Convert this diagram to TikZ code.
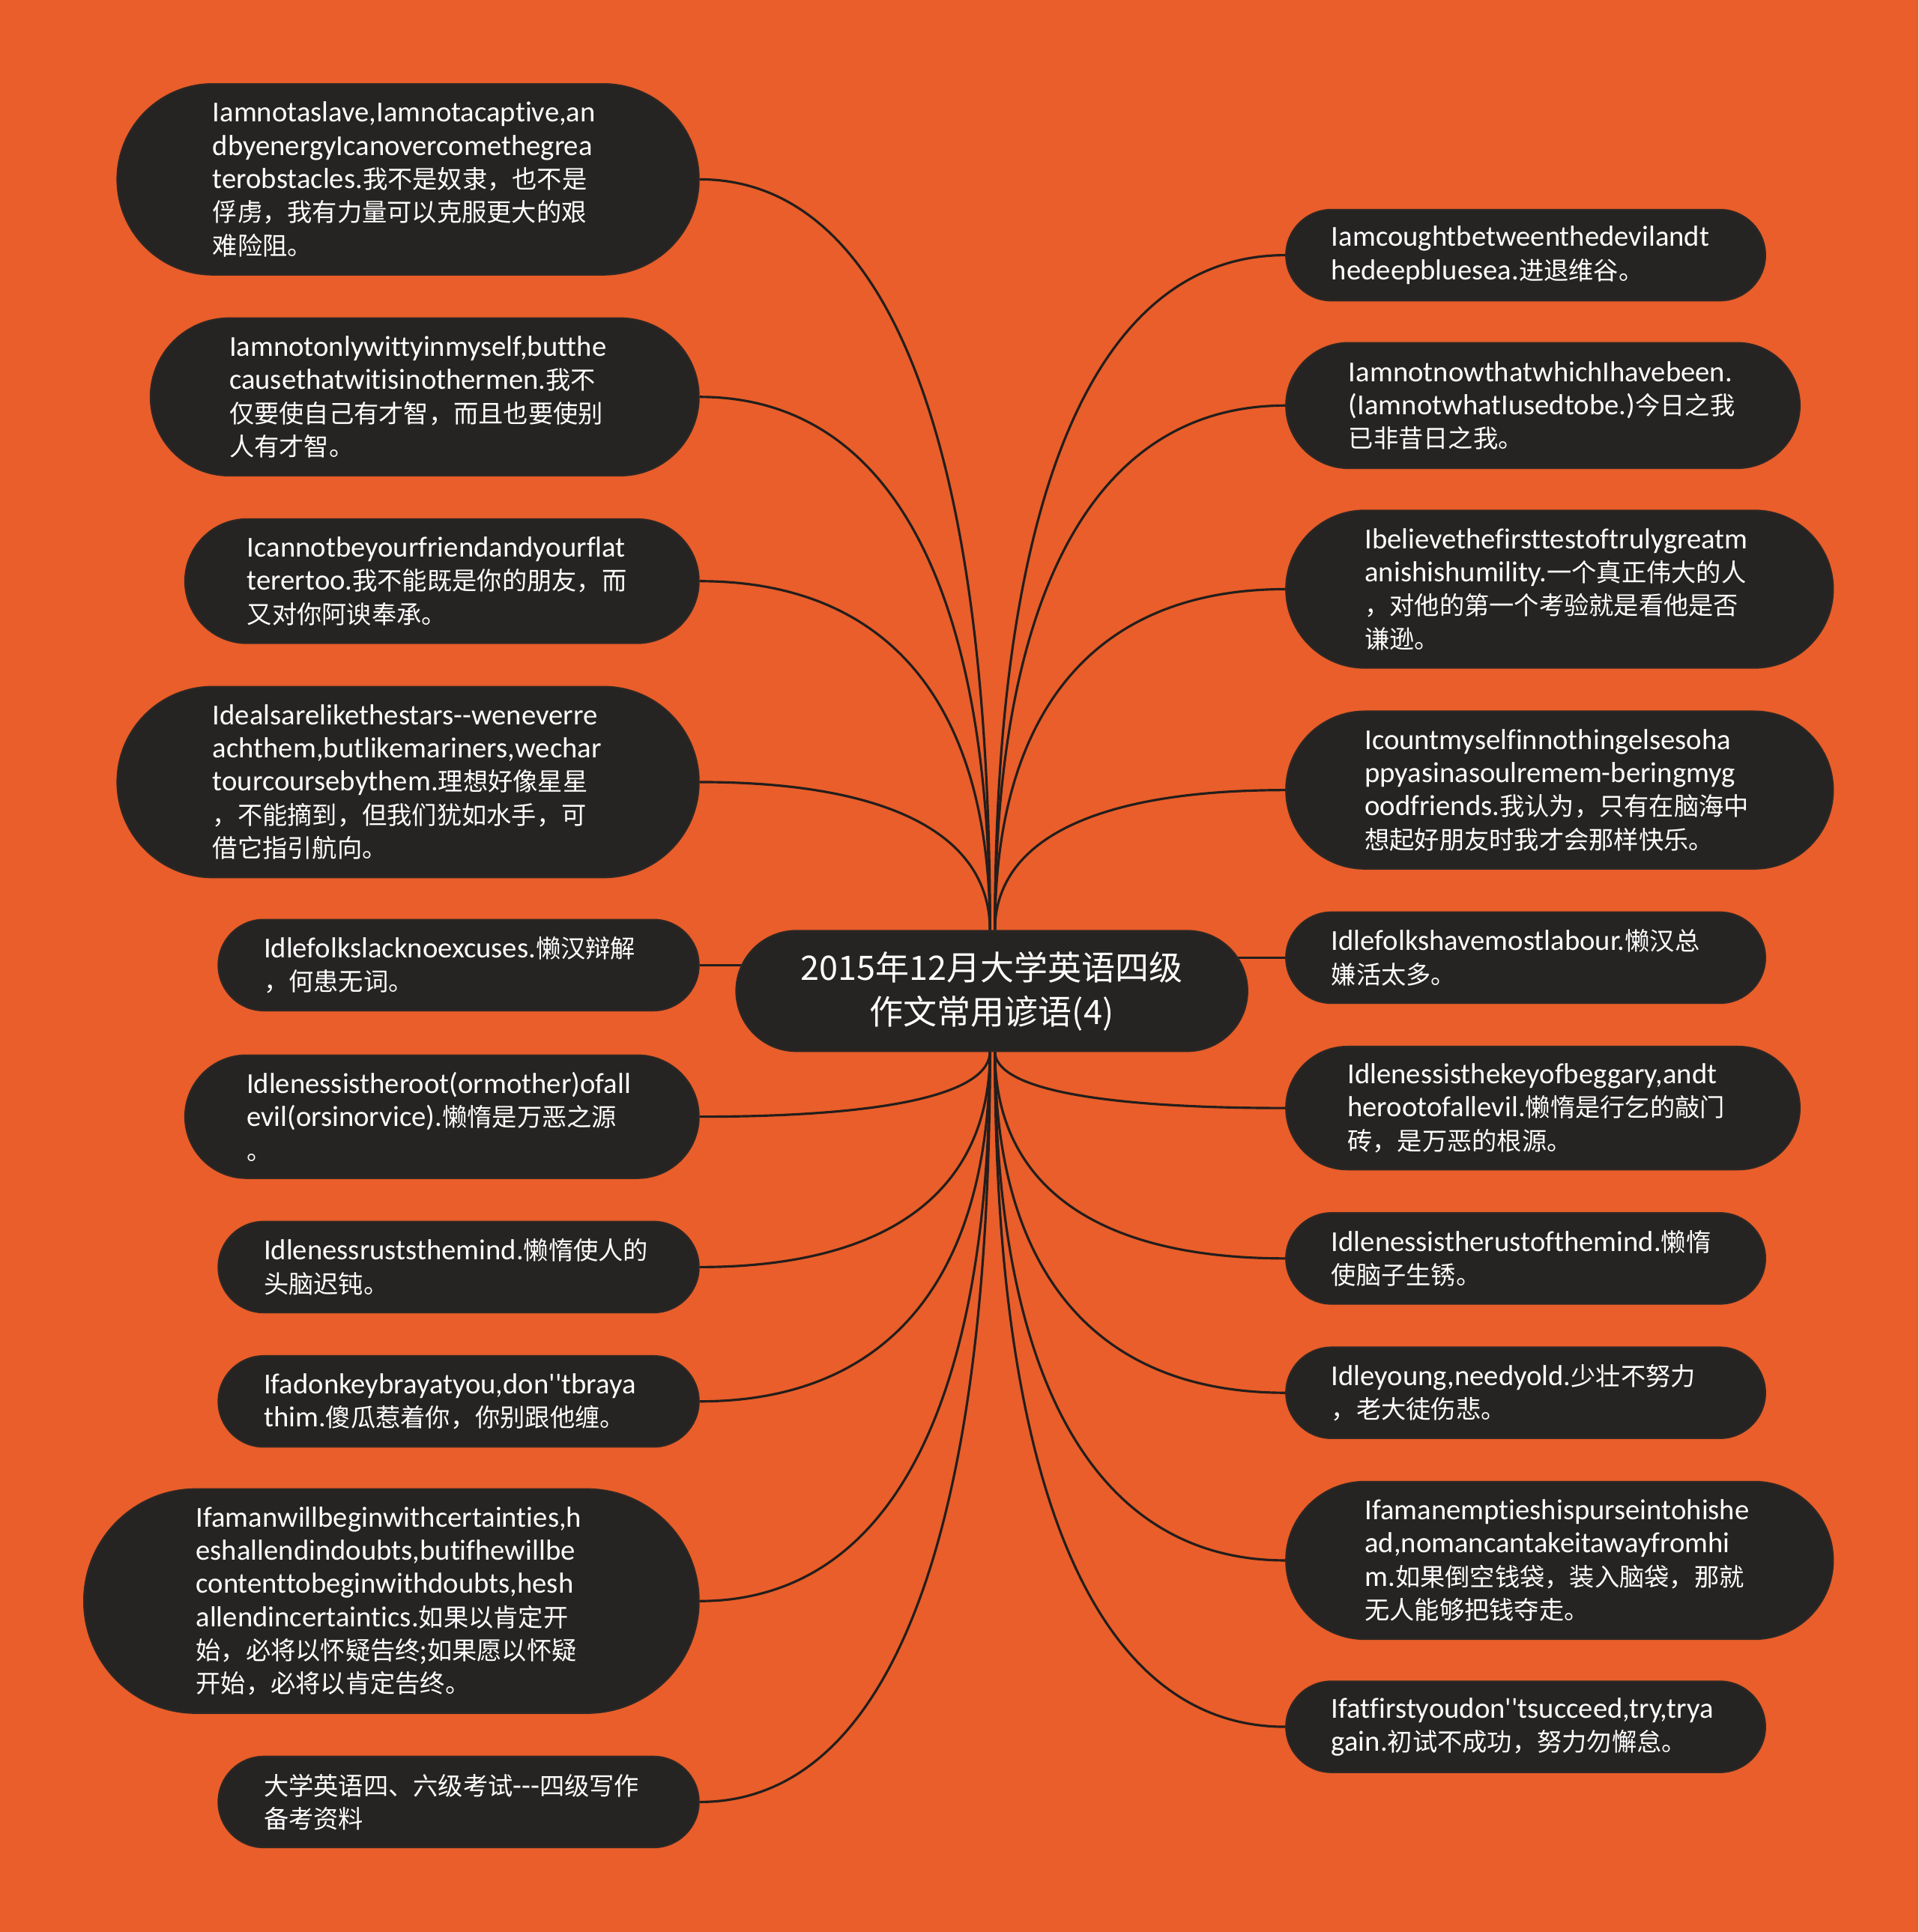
\documentclass[tikz,border=0pt]{standalone}
\usepackage{fontspec}
\setmainfont{Carlito}[Ligatures={TeX,NoCommon}]
\newfontfamily\zh{Noto Sans CJK SC}[Scale=0.86]
\newfontfamily\zhc{Noto Sans CJK SC}
\usetikzlibrary{calc,backgrounds}
\definecolor{bgorange}{RGB}{233,94,42}
\definecolor{nodefill}{RGB}{38,36,35}
\definecolor{nodeedge}{RGB}{48,40,36}
\definecolor{linec}{RGB}{36,30,28}
\newcommand\pxu{0.01645cm}
\newcommand\nodefont{\fontsize{11}{12.6}\selectfont\hyphenpenalty=10000\exhyphenpenalty=10000}
\tikzset{
  pill/.style 2 args={fill=nodefill, draw=nodeedge, line width=0.5pt, text=white,
    align=left, minimum width={#1*\pxu}, minimum height={#2*\pxu},
    text width={(#1-#2)*\pxu}, inner xsep={#2*\pxu/2}, inner ysep=0pt,
    rounded corners={#2*\pxu/2}, font=\nodefont},
  centre/.style={fill=nodefill, draw=nodeedge, line width=0.5pt, text=white,
    align=center, minimum width={415*\pxu}, minimum height={98*\pxu},
    inner sep=0pt, rounded corners={49*\pxu}, font=\fontsize{12.8}{16.8}\selectfont\zhc},
  link/.style={draw=linec, line width=0.9pt},
  branch/.style={link, to path={.. controls ($(\tikztostart)!0.65!(\tikztostart|-\tikztotarget)$) and ($(\tikztotarget)!0.65!(\tikztostart|-\tikztotarget)$) .. (\tikztotarget)}}
}
\begin{document}
\begin{tikzpicture}[x=0.01645cm, y=-0.01645cm]
\path[use as bounding box] (0,0) rectangle (1556,1567.5);

\node[centre] (c) at (804.5,804) {2015年12月大学英语四级\\作文常用谚语(4)};
\coordinate (ctl) at (803,755);
\coordinate (ctr) at (807,755);
\coordinate (cbl) at (803,853);
\coordinate (cbr) at (807,853);

% left
\node[pill={472}{155}] (l1) at (331,145.5) {Iamnotaslave,Iamnotacaptive,an\\dbyenergyIcanovercomethegrea\\terobstacles.{\zh 我不是奴隶，也不是}\\{\zh 俘虏，我有力量可以克服更大的艰}\\{\zh 难险阻。}};
\node[pill={445}{128}] (l2) at (344.5,322) {Iamnotonlywittyinmyself,butthe\\causethatwitisinothermen.{\zh 我不}\\{\zh 仅要使自己有才智，而且也要使别}\\{\zh 人有才智。}};
\node[pill={417}{101}] (l3) at (358.5,471.5) {Icannotbeyourfriendandyourflat\\terertoo.{\zh 我不能既是你的朋友，而}\\{\zh 又对你阿谀奉承。}};
\node[pill={472}{155}] (l4) at (331,634.5) {Idealsarelikethestars-{}-weneverre\\achthem,butlikemariners,wechar\\tourcoursebythem.{\zh 理想好像星星}\\{\zh ，不能摘到，但我们犹如水手，可}\\{\zh 借它指引航向。}};
\node[pill={390}{74}] (l5) at (372,783) {Idlefolkslacknoexcuses.{\zh 懒汉辩解}\\{\zh ，何患无词。}};
\node[pill={417}{100}] (l6) at (358.5,906) {Idlenessistheroot(ormother)ofall\\evil(orsinorvice).{\zh 懒惰是万恶之源}\\{\zh 。}};
\node[pill={390}{74}] (l7) at (372,1028) {Idlenessruststhemind.{\zh 懒惰使人的}\\{\zh 头脑迟钝。}};
\node[pill={390}{74}] (l8) at (372,1137) {Ifadonkeybrayatyou,don\textquotesingle\textquotesingle tbraya\\thim.{\zh 傻瓜惹着你，你别跟他缠。}};
\node[pill={499}{182}] (l9) at (317.5,1299) {Ifamanwillbeginwithcertainties,h\\eshallendindoubts,butifhewillbe\\contenttobeginwithdoubts,hesh\\allendincertaintics.{\zh 如果以肯定开}\\{\zh 始，必将以怀疑告终;如果愿以怀疑}\\{\zh 开始，必将以肯定告终。}};
\node[pill={390}{74}] (l10) at (372,1462) {{\zh 大学英语四、六级考试}-{}-{}-{\zh 四级写作}\\{\zh 备考资料}};

% right
\node[pill={389}{74}] (r1) at (1237.5,207) {Iamcoughtbetweenthedevilandt\\hedeepbluesea.{\zh 进退维谷。}};
\node[pill={417}{102}] (r2) at (1251.5,329) {IamnotnowthatwhichIhavebeen.\\(IamnotwhatIusedtobe.){\zh 今日之我}\\{\zh 已非昔日之我。}};
\node[pill={444}{128}] (r3) at (1265,478) {Ibelievethefirsttestoftrulygreatm\\anishishumility.{\zh 一个真正伟大的人}\\{\zh ，对他的第一个考验就是看他是否}\\{\zh 谦逊。}};
\node[pill={444}{128}] (r4) at (1265,641) {Icountmyselfinnothingelsesoha\\ppyasinasoulremem-beringmyg\\oodfriends.{\zh 我认为，只有在脑海中}\\{\zh 想起好朋友时我才会那样快乐。}};
\node[pill={389}{74}] (r5) at (1237.5,777) {Idlefolkshavemostlabour.{\zh 懒汉总}\\{\zh 嫌活太多。}};
\node[pill={417}{100}] (r6) at (1251.5,899) {Idlenessisthekeyofbeggary,andt\\herootofallevil.{\zh 懒惰是行乞的敲门}\\{\zh 砖，是万恶的根源。}};
\node[pill={389}{74}] (r7) at (1237.5,1021) {Idlenessistherustofthemind.{\zh 懒惰}\\{\zh 使脑子生锈。}};
\node[pill={389}{74}] (r8) at (1237.5,1130) {Idleyoung,needyold.{\zh 少壮不努力}\\{\zh ，老大徒伤悲。}};
\node[pill={444}{128}] (r9) at (1265,1266) {Ifamanemptieshispurseintohishe\\ad,nomancantakeitawayfromhi\\m.{\zh 如果倒空钱袋，装入脑袋，那就}\\{\zh 无人能够把钱夺走。}};
\node[pill={389}{74}] (r10) at (1237.5,1401) {Ifatfirstyoudon\textquotesingle\textquotesingle tsucceed,try,trya\\gain.{\zh 初试不成功，努力勿懈怠。}};

\begin{pgfonlayer}{background}
\fill[bgorange] (0,0) rectangle (1556,1567.5);
\draw[branch] (ctl) to (l1.east);
\draw[branch] (ctl) to (l2.east);
\draw[branch] (ctl) to (l3.east);
\draw[branch] (ctl) to (l4.east);
\draw[link] (l5.east) -- (c.center |- l5.east);
\draw[branch] (cbl) to (l6.east);
\draw[branch] (cbl) to (l7.east);
\draw[branch] (cbl) to (l8.east);
\draw[branch] (cbl) to (l9.east);
\draw[branch] (cbl) to (l10.east);
\draw[branch] (ctr) to (r1.west);
\draw[branch] (ctr) to (r2.west);
\draw[branch] (ctr) to (r3.west);
\draw[branch] (ctr) to (r4.west);
\draw[link] (r5.west) -- (c.center |- r5.west);
\draw[branch] (cbr) to (r6.west);
\draw[branch] (cbr) to (r7.west);
\draw[branch] (cbr) to (r8.west);
\draw[branch] (cbr) to (r9.west);
\draw[branch] (cbr) to (r10.west);
\end{pgfonlayer}
\end{tikzpicture}
\end{document}
